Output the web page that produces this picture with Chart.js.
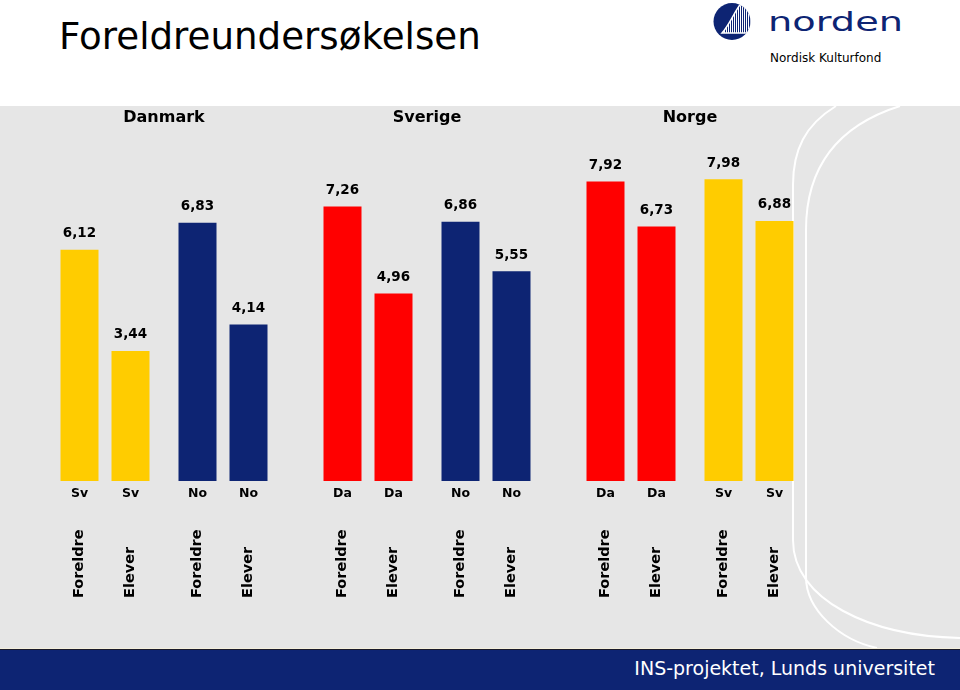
<!DOCTYPE html>
<html>
<head>
<meta charset="utf-8">
<script src="https://cdn.jsdelivr.net/npm/chart.js@4/dist/chart.umd.min.js"></script>
<style>
  html, body { margin: 0; padding: 0; }
  body { width: 960px; height: 690px; position: relative; overflow: hidden; background: #fff; font-family: "DejaVu Sans", Verdana, sans-serif; }
  .abs { position: absolute; }
  #title { left: 59px; top: 18px; font-size: 37.2px; color: #000; white-space: nowrap; line-height: 1; }
  #panel { left: 0; top: 106px; width: 960px; height: 542px; background: #e6e6e6; }
  #cream { left: 0; top: 648px; width: 960px; height: 1px; background: #f4efdc; }
  #footer { left: 0; top: 649px; width: 960px; height: 41px; background: #0d2473; border-top: 1px solid #1a1a2a; box-sizing: border-box; }
  #footer span { position: absolute; right: 25px; top: 7px; color: #fff; font-size: 19px; white-space: nowrap; }
  canvas { position: absolute; top: 103px; }
</style>
</head>
<body>
<div id="title" class="abs">Foreldreundersøkelsen</div>

<svg class="abs" style="left:0;top:0" width="960" height="106">
  <defs>
    <clipPath id="logoClip"><circle cx="732" cy="21.5" r="18.5"/></clipPath>
    <pattern id="stripes" width="2" height="4" patternUnits="userSpaceOnUse">
      <rect x="0" y="0" width="1" height="4" fill="#ffffff"/>
    </pattern>
  </defs>
  <circle cx="732" cy="21.5" r="18.5" fill="#0d2473"/>
  <g clip-path="url(#logoClip)">
    <path d="M 742 2 C 734 12, 730 24, 722 33 L 752 33 L 752 2 Z" fill="url(#stripes)"/>
    <path d="M 742 2 C 734 12, 730 24, 722 33 L 752 33" fill="none" stroke="#fff" stroke-width="1.5"/>
  </g>
  <text x="768" y="31" font-size="26" fill="#0d2473" textLength="135" lengthAdjust="spacingAndGlyphs" font-family="DejaVu Sans">norden</text>
  <text x="770" y="62" font-size="12" fill="#000" font-family="DejaVu Sans">Nordisk Kulturfond</text>
</svg>

<div id="panel" class="abs"></div>
<svg class="abs" style="left:0;top:0" width="960" height="690">
  <path d="M 836 106 C 805 125, 793 150, 793 185 L 793 540 C 793 600, 870 636, 960 638" fill="none" stroke="#fff" stroke-width="2"/>
  <path d="M 900 106 C 840 125, 806 165, 806 230 L 806 577 C 806 610, 840 640, 877 648" fill="none" stroke="#fff" stroke-width="2"/>
</svg>
<div id="cream" class="abs"></div>
<div id="footer" class="abs"><span>INS-projektet, Lunds universitet</span></div>

<canvas id="c0" width="236" height="507" style="left:46px"></canvas>
<canvas id="c1" width="236" height="507" style="left:309px"></canvas>
<canvas id="c2" width="236" height="507" style="left:572px"></canvas>

<script>
// data
const countries = ['Danmark', 'Sverige', 'Norge'];
const languages = [['Sv', 'No'], ['Da', 'No'], ['Da', 'Sv']];
const groups = ['Foreldre', 'Elever'];
const foreldreValues = [[6.12, 6.83], [7.26, 6.86], [7.92, 7.98]];
const eleverValues = [[3.44, 4.14], [4.96, 5.55], [6.73, 6.88]];

const langColors = { Sv: '#ffcc00', No: '#0d2473', Da: '#ff0000' };
const FONT = '"DejaVu Sans", Verdana, sans-serif';

// value labels, language labels, rotated group labels and country header
const barLabels = {
  id: 'barLabels',
  afterDatasetsDraw(chart, args, opts) {
    const ctx = chart.ctx;
    const area = chart.chartArea;
    ctx.save();
    ctx.fillStyle = '#000';
    ctx.textAlign = 'center';
    ctx.textBaseline = 'middle';
    ctx.font = 'bold 16px ' + FONT;
    ctx.fillText(opts.country, (area.left + area.right) / 2, area.top + 15);

    chart.data.datasets.forEach((ds, di) => {
      chart.getDatasetMeta(di).data.forEach((bar, i) => {
        ctx.textAlign = 'center';
        ctx.font = 'bold 13.5px ' + FONT;
        ctx.fillText(ds.data[i].toFixed(2).replace('.', ','), bar.x, bar.y - 16);
        ctx.font = 'bold 12.5px ' + FONT;
        ctx.fillText(chart.data.labels[i], bar.x, area.bottom + 13);

        ctx.save();
        ctx.translate(bar.x, area.bottom + 117);
        ctx.rotate(-Math.PI / 2);
        ctx.textAlign = 'left';
        ctx.font = 'bold 14.5px ' + FONT;
        ctx.fillText(ds.label, 0, 0);
        ctx.restore();
      });
    });
    ctx.restore();
  }
};

countries.forEach((country, k) => {
  const colors = languages[k].map(l => langColors[l]);
  new Chart(document.getElementById('c' + k), {
    type: 'bar',
    data: {
      labels: languages[k],
      datasets: [
        { label: groups[0], data: foreldreValues[k], backgroundColor: colors },
        { label: groups[1], data: eleverValues[k], backgroundColor: colors }
      ]
    },
    options: {
      responsive: false,
      animation: false,
      devicePixelRatio: 1,
      layout: { padding: { top: 0, left: 0, right: 0, bottom: 129 } },
      datasets: { bar: { barPercentage: 38 / 51, categoryPercentage: 102 / 118, borderWidth: 0 } },
      scales: {
        x: { display: false },
        y: { display: false, min: 0, max: 10 }
      },
      plugins: {
        legend: { display: false },
        tooltip: { enabled: false },
        barLabels: { country: country }
      }
    },
    plugins: [barLabels]
  });
});
</script>
</body>
</html>
